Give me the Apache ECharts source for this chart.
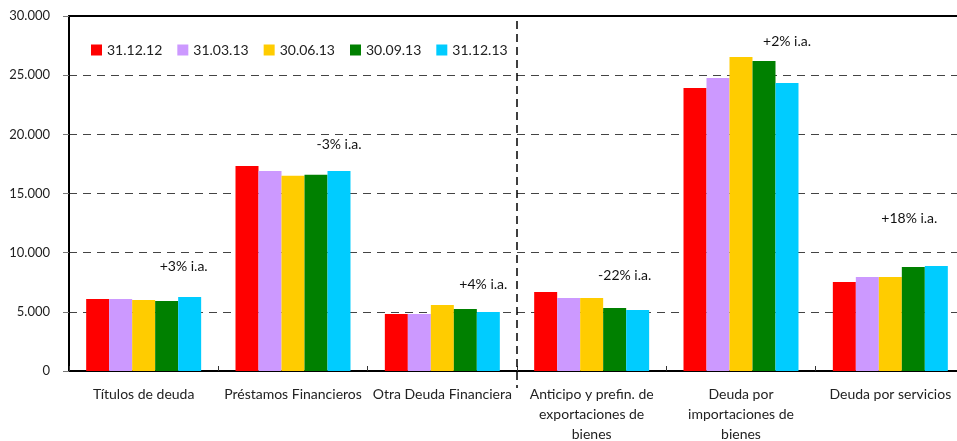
<!DOCTYPE html>
<html>
<head>
<meta charset="utf-8">
<script src="https://cdn.jsdelivr.net/npm/echarts@6/dist/echarts.min.js"></script>
<style>
  html, body { margin: 0; padding: 0; background: #fff; }
  #chart { width: 957px; height: 441px; }
</style>
</head>
<body>
<div id="chart"></div>
<script>
// categorías y series (millones de USD)
const categories = [
  "Títulos de deuda",
  "Préstamos Financieros",
  "Otra Deuda Financiera",
  "Anticipo y prefin. de\nexportaciones de\nbienes",
  "Deuda por\nimportaciones de\nbienes",
  "Deuda por servicios"
];
const seriesNames = ["31.12.12", "31.03.13", "30.06.13", "30.09.13", "31.12.13"];
const s_311212 = [6090, 17330, 4820, 6680, 23920, 7520];
const s_310313 = [6080, 16900, 4820, 6170, 24770, 7950];
const s_300613 = [6000, 16510, 5580, 6170, 26540, 7950];
const s_300913 = [5920, 16590, 5240, 5330, 26200, 8790];
const s_311213 = [6250, 16900, 4990, 5160, 24340, 8880];
const colors = ["#FF0000", "#CC99FF", "#FFCC00", "#008000", "#00CCFF"];

// variaciones interanuales
const notes = ["+3% i.a.", "-3% i.a.", "+4% i.a.", "-22% i.a.", "+2% i.a.", "+18% i.a."];
const noteValues = [8850, 19150, 7350, 8100, 27850, 12850];

const allData = [s_311212, s_310313, s_300613, s_300913, s_311213];
const FONT = "Lato, 'Open Sans', sans-serif";

var myChart = echarts.init(document.getElementById("chart"));

let option = {
  animation: false,
  textStyle: { fontFamily: FONT },
  legend: {
    left: 86,
    top: 38,
    itemWidth: 11,
    itemHeight: 11,
    itemGap: 15,
    icon: "rect",
    textStyle: { fontSize: 14, color: "#222", fontFamily: FONT },
    data: seriesNames
  },
  grid: {
    left: 69,
    top: 16,
    right: -8,
    bottom: 70,
    containLabel: false,
    outerBoundsMode: "none"
  },
  xAxis: [
    {
      type: "category",
      data: categories,
      axisLine: { lineStyle: { color: "#000", width: 2 } },
      axisTick: { show: true, inside: true, length: 5, lineStyle: { color: "#333" } },
      axisLabel: {
        color: "#222",
        fontSize: 14,
        lineHeight: 20,
        margin: 13,
        interval: 0,
        fontFamily: FONT
      }
    },
    {
      type: "category",
      position: "top",
      data: categories,
      axisLine: { lineStyle: { color: "#000", width: 2 } },
      axisTick: { show: false },
      axisLabel: { show: false }
    }
  ],
  yAxis: {
    type: "value",
    min: 0,
    max: 30000,
    interval: 5000,
    axisLine: { show: true, lineStyle: { color: "#000", width: 2 } },
    axisTick: { show: true, length: 6, lineStyle: { color: "#777" } },
    axisLabel: {
      color: "#222",
      fontSize: 13,
      margin: 19,
      fontFamily: FONT,
      formatter: (v) => v.toString().replace(/\B(?=(\d{3})+(?!\d))/g, ".")
    },
    splitLine: {
      show: true,
      lineStyle: { color: "#444", type: [8, 6], width: 1 }
    }
  },
  series: seriesNames.map((name, i) => ({
    name: name,
    type: "bar",
    data: allData[i],
    barGap: "0%",
    barCategoryGap: "23%",
    itemStyle: { color: colors[i] }
  }))
};
myChart.setOption(option);

// anotaciones y separador vertical
const offsets = [40, 46, 41, 33, 46, 19];
const graphics = notes.map((t, i) => {
  const p = myChart.convertToPixel({ xAxisIndex: 0, yAxisIndex: 0 }, [i, noteValues[i]]);
  return {
    type: "text",
    x: p[0] + offsets[i],
    y: p[1],
    style: {
      text: t,
      fill: "#111",
      font: "14px " + FONT,
      textAlign: "center",
      textVerticalAlign: "middle"
    }
  };
});
const xa = myChart.convertToPixel({ xAxisIndex: 0 }, 2);
const xb = myChart.convertToPixel({ xAxisIndex: 0 }, 3);
const xSep = (xa + xb) / 2;
const yTop = myChart.convertToPixel({ yAxisIndex: 0 }, 30000);
const yBot = myChart.convertToPixel({ yAxisIndex: 0 }, 0);
graphics.push({
  type: "line",
  shape: { x1: xSep, y1: yTop + 5, x2: xSep, y2: yBot + 17 },
  style: { stroke: "#000", lineWidth: 1.5, lineDash: [8, 5] },
  z: 10
});
myChart.setOption({ graphic: graphics });
</script>
</body>
</html>
